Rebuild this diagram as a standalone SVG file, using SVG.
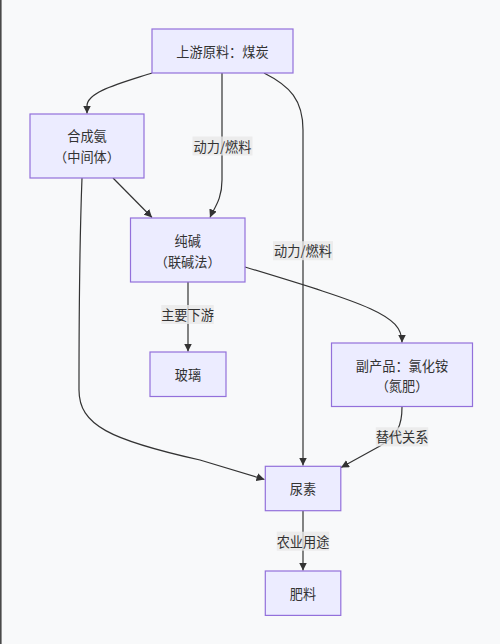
<svg xmlns="http://www.w3.org/2000/svg" width="500" height="644" viewBox="0 0 500 644">
<defs>
<style>
.node rect{fill:#ECECFF;stroke:#9370DB;stroke-width:1.2}
text{font-family:"Noto Sans CJK SC","Noto Sans",sans-serif;font-size:13.2px;fill:#333;text-anchor:middle;dominant-baseline:central}
.edge{fill:none;stroke:#333;stroke-width:1.2}
.lbl rect{fill:#e8e8e8;opacity:0.8}
</style>
<marker id="arr" viewBox="0 0 10 10" refX="10" refY="5" markerWidth="8" markerHeight="8" markerUnits="userSpaceOnUse" orient="auto">
<path d="M0,0 L10,5 L0,10 z" fill="#333"/>
</marker>
</defs>
<rect width="500" height="644" fill="#f8f9fa"/>
<rect x="0" y="0" width="1.6" height="644" fill="#4a4a4a"/>
<g id="connectors">
<path class="edge" d="M152,73 C118,84 87,92 87,106 L87,113.5" marker-end="url(#arr)"/>
<path class="edge" d="M222,73 L222,180 C222,200 214,208 210,217.5" marker-end="url(#arr)"/>
<path class="edge" d="M264,73 C290,86 303,100 303,130 L303,465.5" marker-end="url(#arr)"/>
<path class="edge" d="M113,178 L152,217.5" marker-end="url(#arr)"/>
<path class="edge" d="M82,178 C80,230 79,330 79,390 C79,425 110,440 200,460 L264.5,479.5" marker-end="url(#arr)"/>
<path class="edge" d="M245,267 C370,305 402,315 402,342.5" marker-end="url(#arr)"/>
<path class="edge" d="M188,282 L188,351.5" marker-end="url(#arr)"/>
<path class="edge" d="M402,407 C402,425 398,435 380,446 L341,467.5" marker-end="url(#arr)"/>
<path class="edge" d="M303,511 L303,570.5" marker-end="url(#arr)"/>
<g class="lbl"><rect x="192.5" y="136.5" width="60" height="19"/><text x="222.5" y="146">动力/燃料</text></g>
<g class="lbl"><rect x="273" y="241.2" width="60" height="19"/><text x="303" y="250.7">动力/燃料</text></g>
<g class="lbl"><rect x="161.3" y="305" width="52.4" height="19"/><text x="187.5" y="314.5">主要下游</text></g>
<g class="lbl"><rect x="375.8" y="427.3" width="52.4" height="19"/><text x="402" y="436.8">替代关系</text></g>
<g class="lbl"><rect x="276.8" y="531.7" width="52.4" height="19"/><text x="303" y="541.2">农业用途</text></g>
</g>
<g id="coal" class="node"><rect x="152" y="29" width="141" height="44"/><text x="222.5" y="51">上游原料：煤炭</text></g>
<g id="ammonia" class="node"><rect x="30" y="114" width="114" height="64"/><text x="87" y="135.5">合成氨</text><text x="87" y="156.5">（中间体）</text></g>
<g id="soda" class="node"><rect x="130.5" y="218" width="114.5" height="64"/><text x="187.7" y="240">纯碱</text><text x="187.7" y="261">（联碱法）</text></g>
<g id="glass" class="node"><rect x="150" y="352" width="76" height="44.5"/><text x="188" y="374.5">玻璃</text></g>
<g id="nh4cl" class="node"><rect x="331.5" y="343" width="141" height="63.5"/><text x="402" y="365">副产品：氯化铵</text><text x="402" y="385.5">（氮肥）</text></g>
<g id="urea" class="node"><rect x="265.3" y="466.3" width="75.5" height="44.4"/><text x="303" y="488.5">尿素</text></g>
<g id="fertilizer" class="node"><rect x="265.3" y="571" width="75.5" height="44.4"/><text x="303" y="593.2">肥料</text></g>
</svg>
